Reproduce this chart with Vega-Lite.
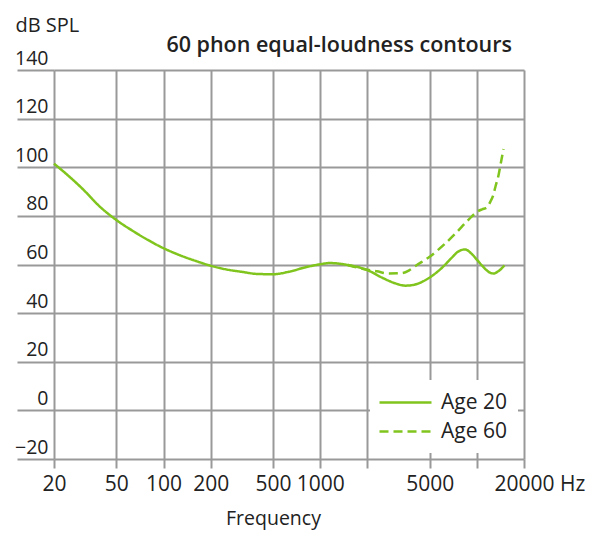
{
  "$schema": "https://vega.github.io/schema/vega-lite/v6.json",
  "width": 470,
  "height": 389,
  "autosize": {"type": "none"},
  "padding": {"left": 54, "top": 70, "right": 68, "bottom": 77},
  "background": "white",
  "title": {
    "text": "60 phon equal-loudness contours",
    "anchor": "end",
    "frame": "group",
    "dx": -12,
    "offset": -58,
    "baseline": "alphabetic",
    "font": "Open Sans",
    "fontSize": 21.5,
    "fontWeight": 600,
    "color": "#222"
  },
  "config": {
    "view": {"stroke": null},
    "axis": {
      "labelFont": "Open Sans",
      "titleFont": "Open Sans",
      "labelColor": "#222",
      "titleColor": "#222",
      "gridColor": "#999",
      "gridWidth": 2,
      "tickColor": "#999",
      "tickWidth": 2,
      "domain": false,
      "grid": true
    }
  },
  "data": {
    "values": [
      {"f": 20, "db": 101.5, "age": "Age 20"},
      {"f": 25, "db": 96.2, "age": "Age 20"},
      {"f": 30, "db": 91.5, "age": "Age 20"},
      {"f": 40, "db": 83.3, "age": "Age 20"},
      {"f": 50, "db": 78.3, "age": "Age 20"},
      {"f": 63, "db": 74, "age": "Age 20"},
      {"f": 80, "db": 70, "age": "Age 20"},
      {"f": 100, "db": 66.7, "age": "Age 20"},
      {"f": 125, "db": 64, "age": "Age 20"},
      {"f": 160, "db": 61.5, "age": "Age 20"},
      {"f": 200, "db": 59.5, "age": "Age 20"},
      {"f": 250, "db": 58, "age": "Age 20"},
      {"f": 315, "db": 57, "age": "Age 20"},
      {"f": 400, "db": 56.1, "age": "Age 20"},
      {"f": 500, "db": 56, "age": "Age 20"},
      {"f": 630, "db": 57, "age": "Age 20"},
      {"f": 800, "db": 58.8, "age": "Age 20"},
      {"f": 1000, "db": 60.1, "age": "Age 20"},
      {"f": 1150, "db": 60.6, "age": "Age 20"},
      {"f": 1500, "db": 59.8, "age": "Age 20"},
      {"f": 2000, "db": 57.7, "age": "Age 20"},
      {"f": 2500, "db": 54.5, "age": "Age 20"},
      {"f": 3000, "db": 52.3, "age": "Age 20"},
      {"f": 3500, "db": 51.3, "age": "Age 20"},
      {"f": 4000, "db": 51.7, "age": "Age 20"},
      {"f": 4700, "db": 53.6, "age": "Age 20"},
      {"f": 5300, "db": 55.8, "age": "Age 20"},
      {"f": 6000, "db": 58.7, "age": "Age 20"},
      {"f": 6800, "db": 62.3, "age": "Age 20"},
      {"f": 7600, "db": 65.3, "age": "Age 20"},
      {"f": 8400, "db": 66.2, "age": "Age 20"},
      {"f": 9200, "db": 64.6, "age": "Age 20"},
      {"f": 10000, "db": 62, "age": "Age 20"},
      {"f": 11000, "db": 59, "age": "Age 20"},
      {"f": 12000, "db": 56.8, "age": "Age 20"},
      {"f": 12800, "db": 56.3, "age": "Age 20"},
      {"f": 13700, "db": 57.2, "age": "Age 20"},
      {"f": 15000, "db": 59.6, "age": "Age 20"},
      {"f": 1500, "db": 59.8, "age": "Age 60"},
      {"f": 2000, "db": 57.8, "age": "Age 60"},
      {"f": 2300, "db": 57.2, "age": "Age 60"},
      {"f": 2700, "db": 56.3, "age": "Age 60"},
      {"f": 3300, "db": 56.4, "age": "Age 60"},
      {"f": 3700, "db": 57.6, "age": "Age 60"},
      {"f": 4100, "db": 59.6, "age": "Age 60"},
      {"f": 5000, "db": 63.2, "age": "Age 60"},
      {"f": 6300, "db": 68.7, "age": "Age 60"},
      {"f": 7500, "db": 73.5, "age": "Age 60"},
      {"f": 8400, "db": 76.9, "age": "Age 60"},
      {"f": 9300, "db": 79.8, "age": "Age 60"},
      {"f": 10000, "db": 81.6, "age": "Age 60"},
      {"f": 10800, "db": 82.7, "age": "Age 60"},
      {"f": 11600, "db": 83.5, "age": "Age 60"},
      {"f": 12300, "db": 86.3, "age": "Age 60"},
      {"f": 12700, "db": 88.3, "age": "Age 60"},
      {"f": 13200, "db": 92.5, "age": "Age 60"},
      {"f": 13700, "db": 96.2, "age": "Age 60"},
      {"f": 14300, "db": 102.5, "age": "Age 60"},
      {"f": 14800, "db": 107.5, "age": "Age 60"}
    ]
  },
  "mark": {"type": "line", "color": "#80c41e", "strokeWidth": 2.5, "interpolate": "monotone"},
  "encoding": {
    "x": {
      "field": "f",
      "type": "quantitative",
      "scale": {"type": "log", "domain": [20, 20000], "nice": false},
      "axis": {
        "title": "Frequency",
        "titleFontSize": 19.5,
        "titleFontWeight": "normal",
        "titlePadding": 15,
        "titleX": 219,
        "values": [20, 50, 100, 200, 500, 1000, 2000, 5000, 10000, 20000],
        "format": "d",
        "labelExpr": "datum.value == 2000 || datum.value == 10000 ? '' : datum.value == 20000 ? '20000 Hz' : datum.label",
        "labelFontSize": 21,
        "labelPadding": 5,
        "labelOverlap": false,
        "labelFlush": false,
        "labelBound": false,
        "labelAlign": {"condition": {"test": "datum.value == 20000", "value": "left"}, "value": "center"},
        "labelOffset": {"condition": {"test": "datum.value == 20000", "value": -30}, "value": 0},
        "tickSize": 9
      }
    },
    "y": {
      "field": "db",
      "type": "quantitative",
      "scale": {"domain": [-20, 140], "nice": false, "zero": false},
      "axis": {
        "title": "dB SPL",
        "titleAngle": 0,
        "titleAlign": "left",
        "titleBaseline": "alphabetic",
        "titleX": -39,
        "titleY": -39,
        "titleFontSize": 20,
        "titleFontWeight": "normal",
        "values": [-20, 0, 20, 40, 60, 80, 100, 120, 140],
        "labelFontSize": 19.5,
        "tickSize": 37,
        "labelPadding": -31,
        "labelBaseline": "alphabetic",
        "labelOffset": -6
      }
    },
    "strokeDash": {
      "field": "age",
      "type": "nominal",
      "scale": {"domain": ["Age 20", "Age 60"], "range": [[1, 0], [9, 5]]},
      "legend": {
        "title": null,
        "orient": "none",
        "legendX": 316,
        "legendY": 310,
        "fillColor": "white",
        "padding": 11,
        "symbolType": "M-2.6,0H2.6",
        "symbolSize": 400,
        "symbolOffset": 13,
        "symbolStrokeWidth": 2.5,
        "symbolStrokeColor": "#80c41e",
        "labelExpr": "datum.label + '      '",
        "labelFont": "Open Sans",
        "labelFontSize": 21,
        "labelColor": "#222",
        "labelOffset": 24,
        "rowPadding": 7
      }
    }
  }
}
